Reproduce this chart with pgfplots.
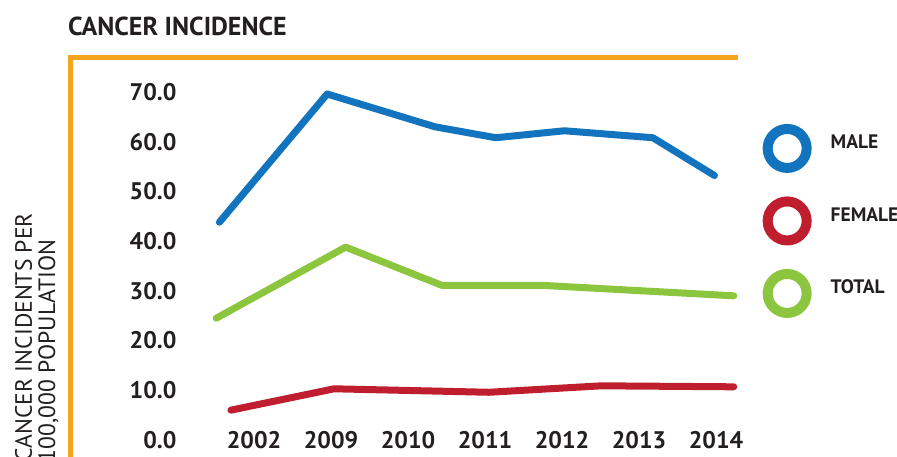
\documentclass[border=0pt]{standalone}
\usepackage{pgfplots}
\pgfplotsset{compat=1.18}
\usepackage{fontspec}
\setmainfont{PT Sans}
\definecolor{cblue}{HTML}{1274BE}
\definecolor{cred}{HTML}{BE1E2D}
\definecolor{cgreen}{HTML}{8CC63F}
\definecolor{corange}{HTML}{F4A520}
\definecolor{ctext}{HTML}{231F20}
\begin{document}
\begin{tikzpicture}[x=1pt,y=1pt]
\path[use as bounding box] (0,0) rectangle (897,456);
\clip (0,0) rectangle (897,456);
\draw[corange, line width=5pt] (70.5,-5) -- (70.5,398.5) -- (738,398.5);
\node[anchor=base west, inner sep=0pt, text=ctext, font=\fontsize{26}{30}\selectfont\bfseries] at (68,420) {CANCER INCIDENCE};
\node[rotate=90, anchor=base east, inner sep=0pt, text=ctext, font=\fontsize{23.6}{28}\selectfont] at (32,243) {CANCER INCIDENTS PER};
\node[rotate=90, anchor=base east, inner sep=0pt, text=ctext, font=\fontsize{23.6}{28}\selectfont] at (55,217) {100,000 POPULATION};
\begin{axis}[
  at={(177pt,16pt)}, anchor=south west,
  x=77pt, y=4.9714pt,
  xmin=-1, xmax=6.5, ymin=0, ymax=70,
  axis line style={draw=none},
  tick style={draw=none},
  clip=false,
  xtick={0,1,2,3,4,5,6},
  xticklabels={2002,2009,2010,2011,2012,2013,2014},
  ytick={0,10,20,30,40,50,60,70},
  yticklabel={\pgfmathprintnumber[fixed,fixed zerofill,precision=1]{\tick}},
  /pgf/number format/assume math mode=true,
  ticklabel style={text=ctext, font=\fontsize{24}{28}\selectfont\bfseries},
  xticklabel style={anchor=center},
  yticklabel style={anchor=east, xshift=3pt},
  legend style={draw=none, fill=none, inner sep=0pt, at={(1.0138,0.9461)}, anchor=north west,
    font=\fontsize{19.5}{22}\selectfont\bfseries, text=ctext,
    nodes={inner sep=0pt, anchor=base west}},
  legend cell align=left,
  legend image code/.code={
    \path[draw=none, fill=none] (0pt,-34.5pt) rectangle (68pt,38pt);
    \draw[line width=10pt] (24.5pt,0.5pt) circle[radius=19.5pt];
  },
  every axis plot/.append style={line width=7pt, line cap=round, line join=round},
]
\addplot[cblue] coordinates {(-0.45,43.8) (0.95,69.6) (2.35,63.0) (3.14,60.8) (4.03,62.2) (5.18,60.8) (5.98,53.2)};
\addlegendentry{MALE}
\addplot[cred] coordinates {(-0.30,6.0) (1.04,10.3) (3.05,9.6) (4.51,10.9) (6.23,10.7)};
\addlegendentry{FEMALE}
\addplot[cgreen] coordinates {(-0.49,24.5) (1.19,38.8) (2.44,31.1) (3.75,31.1) (6.23,29.0)};
\addlegendentry{TOTAL}
\end{axis}
\end{tikzpicture}
\end{document}
